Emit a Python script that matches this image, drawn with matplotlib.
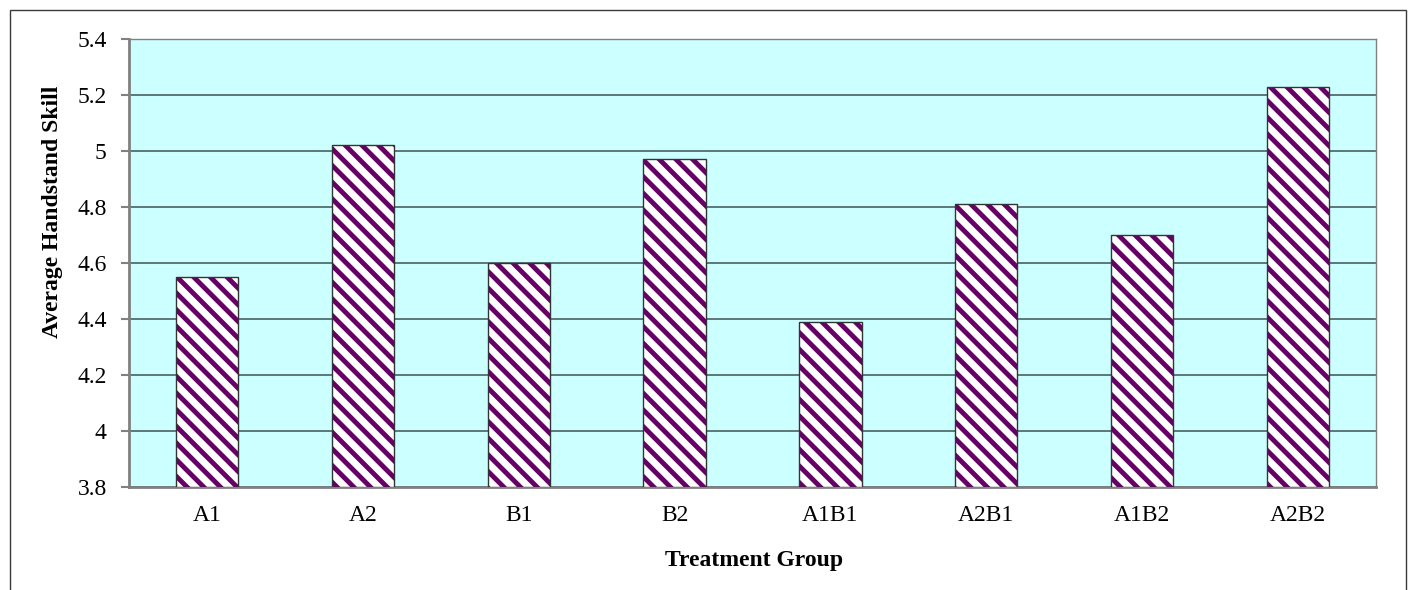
import matplotlib
matplotlib.use("Agg")
import matplotlib.pyplot as plt
from matplotlib.patches import Rectangle

# Mean handstand skill by treatment group.
Groups = ["A1", "A2", "B1", "B2", "A1B1", "A2B1", "A1B2", "A2B2"]
Means = [4.55, 5.02, 4.60, 4.97, 4.39, 4.81, 4.70, 5.23]
YTicks = [3.8, 4, 4.2, 4.4, 4.6, 4.8, 5, 5.2, 5.4]
YTickLabels = ["3.8", "4", "4.2", "4.4", "4.6", "4.8", "5", "5.2", "5.4"]
Base = 3.8

plt.rcParams["font.family"] = ["Liberation Serif", "DejaVu Serif"]
plt.rcParams["hatch.linewidth"] = 3.5

W, H = 1410, 590
Fig = plt.figure(figsize=(W / 100, H / 100), dpi=100)
Ax = Fig.add_axes([129 / W, 1 - 487 / H, (1376 - 129) / W, (487 - 39) / H])
Ax.set_facecolor("#CCFFFF")

Positions = list(range(len(Groups)))
Heights = [m - Base for m in Means]
# Hatched fill first (hatch takes the edge colour), then a thin outline on top.
Ax.bar(Positions, Heights, bottom=Base, width=0.4, color="white",
       edgecolor="#660066", linewidth=0, hatch="\\\\", zorder=3)
Ax.bar(Positions, Heights, bottom=Base, width=0.4, fill=False,
       edgecolor="#333333", linewidth=1.0, zorder=4)

Ax.set_xlim(-0.5, len(Groups) - 0.5)
Ax.set_ylim(Base, 5.4)
Ax.set_yticks(YTicks)
Ax.set_yticklabels(YTickLabels)
Ax.set_xticks(Positions)
Ax.set_xticklabels(Groups)
Ax.yaxis.grid(True, color="#4a6060", linewidth=1.2, zorder=1)
Ax.set_axisbelow(True)

Ax.tick_params(axis="y", length=6, width=1.5, color="#808080", labelsize=17, pad=10)
Ax.tick_params(axis="x", length=0, labelsize=17, pad=13)
for Side in ["left", "bottom"]:
    Ax.spines[Side].set_color("#808080")
    Ax.spines[Side].set_linewidth(2)
for Side in ["top", "right"]:
    Ax.spines[Side].set_color("#808080")
    Ax.spines[Side].set_linewidth(1)

# Axis titles placed in figure pixels.
Fig.text(754 / W, 1 - 566 / H, "Treatment Group", fontsize=17, fontweight="bold",
         ha="center", va="baseline")
Fig.text(53 / W, 1 - 212 / H, "Average Handstand Skill", fontsize=17, fontweight="bold",
         rotation=90, ha="center", va="center")

# Chart area frame (bottom edge falls outside the image).
Fig.patches.append(Rectangle((10 / W, -0.1), 1396 / W, 1.1 - 10 / H,
                             transform=Fig.transFigure, fill=False,
                             edgecolor="#3a3a3a", linewidth=1.0))

Fig.savefig("out.png", dpi=100)
